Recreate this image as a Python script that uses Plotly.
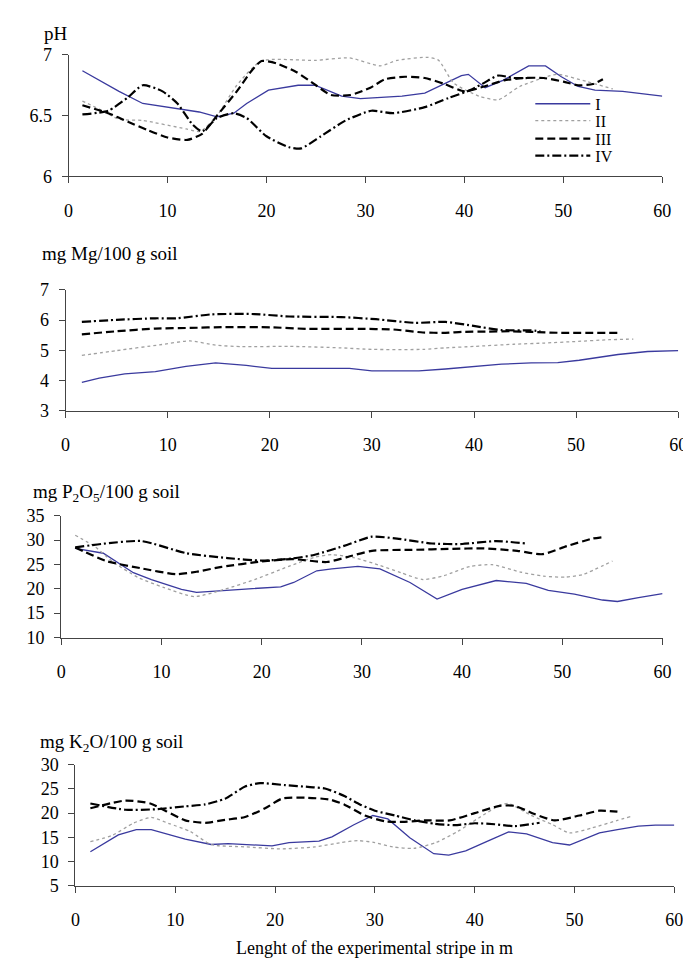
import plotly.graph_objects as go

W, H = 691, 961

# ---------------- data ----------------
series_names = ["I", "II", "III", "IV"]

# pH
ph_x_I = [1.4, 5.1, 7.5, 10.8, 13.2, 15.0, 16.7, 18.0, 20.2, 23.2, 24.9, 27.6, 29.5, 33.7, 36.0, 39.7, 40.4, 42.1, 43.9, 46.5, 48.2, 49.8, 51.5, 53.2, 56.0, 60.0]
ph_I = [6.87, 6.70, 6.60, 6.56, 6.53, 6.49, 6.52, 6.60, 6.71, 6.75, 6.75, 6.66, 6.64, 6.66, 6.685, 6.83, 6.84, 6.73, 6.79, 6.91, 6.91, 6.82, 6.74, 6.71, 6.70, 6.66]
ph_x_II = [1.4, 3.2, 5.1, 7.5, 11.9, 13.3, 15.0, 17.0, 19.5, 24.9, 28.4, 31.5, 33.2, 36.3, 37.4, 38.9, 41.5, 43.4, 45.6, 48.7, 49.5, 52.4, 55.0]
ph_II = [6.62, 6.55, 6.47, 6.46, 6.39, 6.37, 6.50, 6.75, 6.95, 6.955, 6.975, 6.91, 6.955, 6.98, 6.955, 6.77, 6.66, 6.63, 6.74, 6.83, 6.84, 6.78, 6.72]
ph_x_III = [1.4, 4.0, 6.0, 8.0, 10.0, 12.0, 13.5, 15.0, 17.0, 18.5, 19.5, 21.0, 23.0, 25.0, 26.5, 28.5, 30.5, 32.0, 34.0, 36.0, 38.0, 40.0, 42.0, 44.0, 46.0, 48.0, 50.0, 51.5, 53.0, 54.0]
ph_III = [6.585, 6.52, 6.45, 6.38, 6.32, 6.30, 6.35, 6.50, 6.70, 6.87, 6.95, 6.93, 6.86, 6.75, 6.67, 6.67, 6.73, 6.80, 6.82, 6.81, 6.76, 6.70, 6.74, 6.79, 6.81, 6.81, 6.78, 6.75, 6.76, 6.80]
ph_x_IV = [1.4, 4.0, 6.0, 7.5, 9.5, 11.0, 12.5, 13.5, 15.0, 16.7, 18.0, 20.0, 22.3, 23.5, 25.5, 28.0, 30.6, 32.8, 36.0, 38.4, 40.6, 42.0, 43.4, 45.0, 46.5]
ph_IV = [6.51, 6.54, 6.65, 6.75, 6.70, 6.60, 6.43, 6.37, 6.48, 6.52, 6.48, 6.33, 6.24, 6.23, 6.33, 6.46, 6.54, 6.52, 6.57, 6.645, 6.71, 6.77, 6.83, 6.81, 6.81]

# Mg
mg_x_I = [1.6, 3.3, 5.8, 8.8, 11.8, 14.7, 17.7, 20.2, 24.5, 27.8, 30.0, 34.6, 37.2, 40.1, 42.7, 45.6, 48.2, 50.3, 52.4, 54.1, 57.0, 60.0]
mg_I = [3.94, 4.08, 4.22, 4.29, 4.47, 4.58, 4.50, 4.40, 4.40, 4.40, 4.32, 4.32, 4.38, 4.47, 4.54, 4.58, 4.59, 4.67, 4.77, 4.86, 4.96, 4.99]
mg_x_II = [1.6, 5.0, 9.2, 12.2, 14.7, 17.3, 21.9, 27.0, 30.0, 35.0, 37.2, 40.1, 43.9, 46.9, 49.9, 53.2, 55.6]
mg_II = [4.83, 4.99, 5.18, 5.31, 5.17, 5.12, 5.13, 5.08, 5.03, 5.03, 5.08, 5.13, 5.20, 5.24, 5.29, 5.35, 5.37]
mg_x_III = [1.6, 5.0, 8.8, 12.2, 15.6, 20.2, 23.6, 28.7, 32.1, 35.0, 37.2, 38.8, 41.4, 43.5, 45.6, 48.2, 54.1]
mg_III = [5.53, 5.63, 5.72, 5.74, 5.77, 5.76, 5.71, 5.71, 5.69, 5.59, 5.58, 5.61, 5.62, 5.63, 5.61, 5.58, 5.58]
mg_x_IV = [1.6, 5.0, 8.8, 10.9, 14.3, 18.5, 21.9, 27.0, 30.4, 34.2, 37.2, 40.1, 42.7, 45.6, 46.5]
mg_IV = [5.94, 6.01, 6.06, 6.06, 6.19, 6.20, 6.12, 6.10, 6.03, 5.91, 5.94, 5.80, 5.67, 5.66, 5.63]

# P2O5
p_x_I = [1.4, 4.2, 7.2, 9.0, 12.0, 13.5, 18.0, 21.9, 23.2, 25.5, 27.0, 29.6, 31.8, 34.8, 37.5, 40.0, 43.4, 46.4, 48.6, 51.2, 54.0, 55.5, 57.6, 60.0]
p_I = [28.3, 27.3, 23.3, 21.9, 19.9, 19.25, 19.9, 20.4, 21.3, 23.7, 24.1, 24.6, 24.1, 21.3, 17.9, 19.9, 21.7, 21.1, 19.7, 18.9, 17.7, 17.4, 18.2, 19.0]
p_x_II = [1.4, 3.4, 5.1, 7.7, 10.2, 13.3, 16.3, 19.3, 22.7, 25.3, 27.0, 29.2, 31.8, 33.9, 36.1, 38.2, 40.8, 43.0, 45.9, 48.1, 50.3, 52.0, 55.0]
p_II = [31.0, 28.6, 25.6, 22.3, 20.3, 18.4, 19.9, 21.9, 24.6, 26.5, 27.0, 26.4, 24.8, 23.3, 21.9, 22.7, 24.6, 24.95, 23.4, 22.6, 22.4, 22.9, 25.7]
p_x_III = [1.4, 4.5, 8.0, 11.5, 13.5, 16.0, 20.0, 23.0, 26.5, 28.5, 31.0, 35.0, 39.0, 42.0, 45.5, 48.0, 50.5, 53.0, 54.0]
p_III = [28.5, 25.7, 24.2, 23.0, 23.5, 24.5, 25.6, 26.1, 25.5, 26.5, 27.8, 28.0, 28.2, 28.3, 27.8, 27.1, 28.8, 30.3, 30.6]
p_x_IV = [1.4, 4.0, 8.0, 12.5, 16.6, 20.0, 23.0, 25.3, 28.5, 31.0, 33.5, 37.0, 40.0, 43.4, 46.4]
p_IV = [28.5, 29.2, 29.8, 27.3, 26.3, 25.8, 26.2, 27.0, 29.0, 30.7, 30.3, 29.3, 29.2, 29.8, 29.3]

# K2O
k_x_I = [1.5, 4.3, 6.1, 7.6, 11.0, 13.6, 15.3, 17.5, 19.7, 21.4, 24.4, 25.7, 27.9, 29.8, 31.3, 33.5, 35.9, 37.4, 39.1, 41.3, 43.4, 45.2, 47.8, 49.5, 51.2, 52.5, 54.3, 56.4, 58.1, 60.0]
k_I = [12.0, 15.5, 16.6, 16.6, 14.6, 13.5, 13.7, 13.5, 13.2, 13.9, 14.2, 15.1, 17.6, 19.5, 18.8, 14.9, 11.6, 11.3, 12.2, 14.2, 16.1, 15.7, 13.9, 13.4, 14.9, 15.9, 16.6, 17.3, 17.5, 17.5]
k_x_II = [1.5, 3.7, 5.8, 7.6, 9.3, 11.5, 13.6, 17.1, 20.5, 24.0, 26.6, 28.3, 30.0, 31.8, 33.9, 36.1, 38.3, 40.4, 42.6, 43.4, 45.6, 47.8, 49.5, 51.7, 54.3, 55.6]
k_II = [14.1, 15.4, 17.9, 19.1, 17.9, 16.2, 13.5, 13.0, 12.6, 13.0, 13.9, 14.3, 13.9, 13.0, 12.7, 13.9, 16.2, 19.0, 21.7, 22.0, 19.6, 17.6, 15.9, 16.9, 18.5, 19.3]
k_x_III = [1.5, 5.0, 7.5, 9.0, 11.0, 13.0, 15.0, 17.0, 19.0, 20.7, 23.0, 25.5, 27.0, 29.0, 31.0, 33.0, 35.0, 37.5, 40.0, 42.5, 44.0, 46.0, 48.0, 50.5, 52.5, 54.3]
k_III = [21.0, 22.6, 22.0, 20.5, 18.5, 18.0, 18.6, 19.2, 21.0, 23.0, 23.2, 22.8, 21.7, 19.5, 18.3, 18.2, 18.5, 18.5, 20.0, 21.5, 21.5, 19.8, 18.5, 19.5, 20.5, 20.3]
k_x_IV = [1.5, 5.0, 8.0, 11.0, 13.0, 15.0, 17.0, 18.5, 21.0, 23.5, 25.0, 27.0, 28.5, 30.0, 32.0, 34.0, 36.0, 38.0, 40.0, 42.0, 44.0, 46.5]
k_IV = [22.0, 20.7, 20.8, 21.4, 21.8, 23.0, 25.5, 26.2, 25.8, 25.4, 25.1, 23.5, 21.8, 20.5, 19.5, 18.5, 17.8, 17.5, 17.9, 17.7, 17.3, 18.0]

panel_titles = ["pH", "mg Mg/100 g soil", "mg P<sub>2</sub>O<sub>5</sub>/100 g soil", "mg K<sub>2</sub>O/100 g soil"]
x_title = "Lenght of the experimental stripe in m"
x_ticks = [0, 10, 20, 30, 40, 50, 60]
y_ranges = [[6, 7], [3, 7], [10, 35], [5, 30]]
y_dticks = [0.5, 1, 5, 5]

panels = [
    [(ph_x_I, ph_I), (ph_x_II, ph_II), (ph_x_III, ph_III), (ph_x_IV, ph_IV)],
    [(mg_x_I, mg_I), (mg_x_II, mg_II), (mg_x_III, mg_III), (mg_x_IV, mg_IV)],
    [(p_x_I, p_I), (p_x_II, p_II), (p_x_III, p_III), (p_x_IV, p_IV)],
    [(k_x_I, k_I), (k_x_II, k_II), (k_x_III, k_III), (k_x_IV, k_IV)],
]

# ---------------- styling / layout ----------------
FONT = "Liberation Serif"
styles = [
    dict(color="#3a3a9e", width=1.3, dash="solid"),
    dict(color="#a0a0a0", width=1.3, dash="dot"),
    dict(color="#000000", width=2.2, dash="8px,4px"),
    dict(color="#000000", width=2.2, dash="9px,3px,2px,3px"),
]
shapes_line = ["linear", "spline", "spline", "spline"]

# pixel boxes: (left, right, top, bottom)
boxes = [
    (56.7, 662.7, 37.7, 161.7),
    (53.6, 679.0, 277.7, 401.0),
    (49.2, 663.0, 508.3, 632.7),
    (63.7, 675.0, 762.7, 886.0),
]
title_pos = [(30, 16), (28, 241), (18, 485), (26, 740)]

fig = go.Figure()
legend_ids = ["legend", "legend2", "legend3", "legend4"]

for p, series in enumerate(panels):
    ax = "" if p == 0 else str(p + 1)
    for s, (xs, ys) in enumerate(series):
        st = styles[s]
        line = dict(color=st["color"], width=st["width"], dash=st["dash"], shape=shapes_line[s])
        if shapes_line[s] == "spline":
            line["smoothing"] = 0.6
        fig.add_trace(go.Scatter(
            x=xs, y=ys, mode="lines", name=series_names[s], line=line,
            xaxis="x" + ax, yaxis="y" + ax,
            showlegend=(p == 0), legend=legend_ids[s],
            hoverinfo="skip",
        ))

layout = dict(
    width=W, height=H, margin=dict(l=0, r=0, t=0, b=0),
    paper_bgcolor="white", plot_bgcolor="white",
    font=dict(family=FONT, size=18, color="black"),
    showlegend=True,
)

AXC = "#444444"
for p in range(4):
    l, r, t, b = boxes[p]
    ax = "" if p == 0 else str(p + 1)
    layout["xaxis" + ax] = dict(
        domain=[l / W, r / W], range=[0, 60], tickvals=x_ticks,
        showline=True, linecolor=AXC, linewidth=1, ticks="outside", ticklen=6,
        tickcolor=AXC, showgrid=False, zeroline=False, fixedrange=True,
        anchor="y" + ax, ticklabelstandoff=12,
        tickfont=dict(family=FONT, size=18, color="black"),
    )
    layout["yaxis" + ax] = dict(
        domain=[1 - b / H, 1 - t / H], range=y_ranges[p], dtick=y_dticks[p],
        showline=True, linecolor=AXC, linewidth=1, ticks="outside", ticklen=6,
        tickcolor=AXC, showgrid=False, zeroline=False, fixedrange=True,
        anchor="x" + ax, ticklabelstandoff=6,
        tickfont=dict(family=FONT, size=18, color="black"),
    )

leg_y = [87.7, 105.0, 123.3, 140.7]
for i, lid in enumerate(legend_ids):
    layout[lid] = dict(
        x=528 / W, y=1 - leg_y[i] / H, xanchor="left", yanchor="middle",
        bgcolor="rgba(0,0,0,0)", borderwidth=0,
        font=dict(family=FONT, size=16, color="black"), itemwidth=55,
    )

annotations = []
for p in range(4):
    x0, y0 = title_pos[p]
    annotations.append(dict(
        text=panel_titles[p], xref="paper", yref="paper",
        x=x0 / W, y=1 - y0 / H, xanchor="left", yanchor="middle",
        showarrow=False, font=dict(family=FONT, size=19, color="black"),
    ))
annotations.append(dict(
    text=x_title, xref="paper", yref="paper",
    x=(boxes[3][0] + boxes[3][1]) / 2 / W, y=1 - 950 / H,
    xanchor="center", yanchor="middle", showarrow=False,
    font=dict(family=FONT, size=18, color="black"),
))
layout["annotations"] = annotations

fig.update_layout(**layout)
fig.write_html("out.html")
